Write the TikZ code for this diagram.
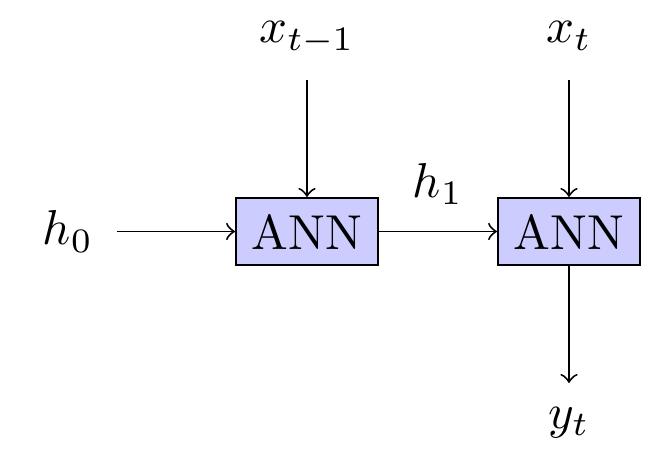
\documentclass[tikz,border=0pt]{standalone}
\begin{document}
\begin{tikzpicture}[x=0.2041pt,y=-0.2041pt,
  annbox/.style={draw,fill=blue!20,minimum width=29pt,minimum height=13.7pt,inner sep=0pt},
  lbl/.style={inner sep=0pt}]
\useasboundingbox (0,0) rectangle (669,474);
\node[annbox] (ann1) at (307,231.5) {ANN};
\node[annbox] (ann2) at (569,231.5) {ANN};
\node[lbl] (h0) at (68,231.5) {$h_0$};
\node[lbl,anchor=base] (xt1) at (307,43) {$x_{t-1}$};
\node[lbl,anchor=base] (xt) at (569,43) {$x_t$};
\node[lbl,anchor=base] (yt) at (569,428.5) {$y_t$};
\draw[->] (h0.east) ++(23,0) -- (ann1.west);
\draw[->,shorten <=7.5pt] (xt1.base) -- (ann1.north);
\draw[->,shorten <=7.5pt] (xt.base) -- (ann2.north);
\draw[->] (ann1.east) -- node[above=2pt] (h1) {$h_1$} (ann2.west);
\draw[->,shorten >=9.3pt] (ann2.south) -- (yt.base);
\end{tikzpicture}
\end{document}
